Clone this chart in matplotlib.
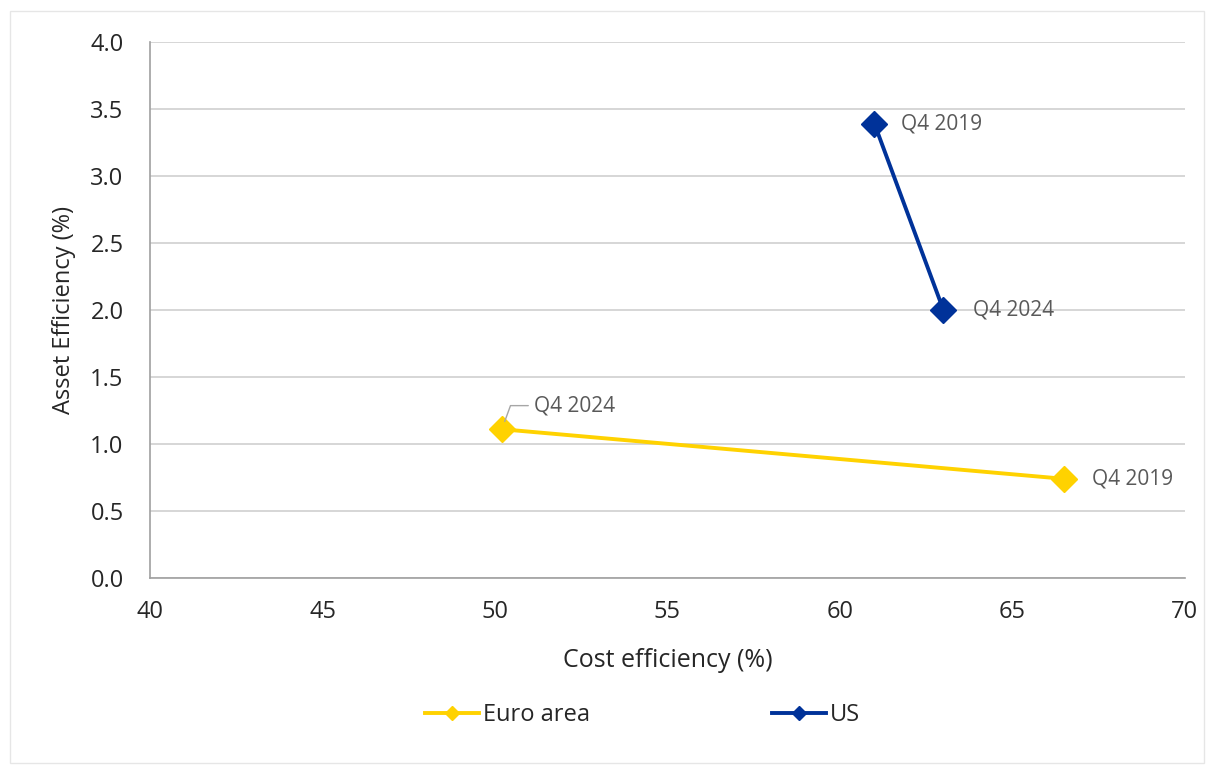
import matplotlib.pyplot as plt
from matplotlib.patches import Rectangle

plt.rcParams['font.family'] = ['Open Sans', 'DejaVu Sans']

# data
labels = ['Q4 2019', 'Q4 2024']
euro_cost = [66.5, 50.2]
euro_asset = [0.74, 1.11]
us_cost = [61.0, 63.0]
us_asset = [3.39, 2.0]

yellow = '#FFD200'
blue = '#003299'
grey_text = '#595959'
dark_text = '#262626'

fig = plt.figure(figsize=(12.14, 7.69), dpi=100)
fig.patches.append(Rectangle((0.008, 0.008), 0.984, 0.978, transform=fig.transFigure,
                             fill=False, edgecolor='#e6e6e6', linewidth=1))
ax = fig.add_axes([0.1236, 0.2484, 0.8524, 0.697])

ax.plot(euro_cost, euro_asset, color=yellow, linewidth=2.8, marker='D', markersize=13,
        label='Euro area', zorder=3)
ax.plot(us_cost, us_asset, color=blue, linewidth=2.8, marker='D', markersize=13,
        label='US', zorder=3)

# point labels
ax.annotate(labels[0], (euro_cost[0], euro_asset[0]), xytext=(20, 0), textcoords='offset points',
            va='center', fontsize=15, color=grey_text)
ax.annotate(labels[1], (euro_cost[1], euro_asset[1]), xytext=(23, 17), textcoords='offset points',
            va='center', fontsize=15, color=grey_text,
            arrowprops=dict(arrowstyle='-', color='#a6a6a6', lw=1,
                            connectionstyle='angle,angleA=0,angleB=70,rad=0',
                            shrinkA=2, shrinkB=6))
ax.annotate(labels[0], (us_cost[0], us_asset[0]), xytext=(19, 0), textcoords='offset points',
            va='center', fontsize=15, color=grey_text)
ax.annotate(labels[1], (us_cost[1], us_asset[1]), xytext=(21, 0), textcoords='offset points',
            va='center', fontsize=15, color=grey_text)

ax.set_xlim(40, 70)
ax.set_ylim(0, 4)
ax.set_xticks(range(40, 71, 5))
ax.set_yticks([i * 0.5 for i in range(9)])
ax.set_yticklabels([f'{i * 0.5:.1f}' for i in range(9)])
ax.grid(axis='y', color='#d0d0d0', linewidth=1.2)
ax.set_axisbelow(True)
ax.tick_params(length=0, labelsize=17, labelcolor=dark_text)
ax.tick_params(axis='y', pad=19)
ax.tick_params(axis='x', pad=16)

for side in ['top', 'right']:
    ax.spines[side].set_visible(False)
for side in ['left', 'bottom']:
    ax.spines[side].set_color('#a0a0a0')
    ax.spines[side].set_linewidth(1.2)

ax.set_xlabel('Cost efficiency (%)', fontsize=18, color=dark_text, labelpad=17)
ax.set_ylabel('Asset Efficiency (%)', fontsize=17, color=dark_text, labelpad=10)

leg = fig.legend(loc='center', bbox_to_anchor=(0.529, 0.07), ncol=2, frameon=False,
                 fontsize=17, columnspacing=7.7, handlelength=2.3, handletextpad=0.15,
                 markerscale=0.55)
for t in leg.get_texts():
    t.set_color(dark_text)

fig.savefig('out.png', dpi=100)
